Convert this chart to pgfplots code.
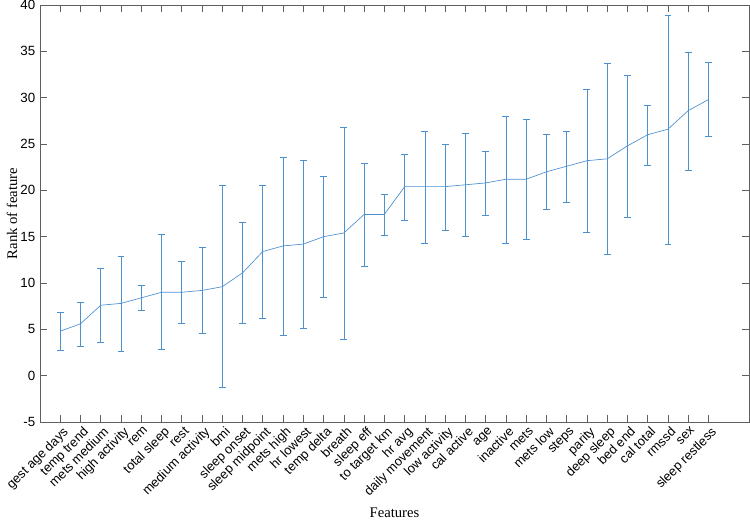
\documentclass[border=0pt]{standalone}
\usepackage{pgfplots}
\pgfplotsset{compat=1.18}
\usepackage{pgfplotstable}
\usepackage{fontspec}
\setmainfont{Liberation Sans}
\newfontfamily\serifrm{Liberation Serif}
\definecolor{mblue}{RGB}{75,145,208}
\definecolor{axgray}{RGB}{95,95,95}

% idx  mean  upper  lower
\pgfplotstableread{
idx mean up lo
1  4.8  6.8  2.7
2  5.6  7.9  3.2
3  7.6  11.6 3.6
4  7.8  12.9 2.6
5  8.4  9.7  7.0
6  9.0  15.2 2.8
7  9.0  12.3 5.7
8  9.2  13.8 4.6
9  9.6  20.5 -1.3
10 11.1 16.6 5.7
11 13.4 20.5 6.2
12 14.0 23.6 4.4
13 14.2 23.2 5.1
14 15.0 21.5 8.5
15 15.4 26.8 3.9
16 17.4 22.9 11.8
17 17.4 19.6 15.1
18 20.4 23.9 16.8
19 20.4 26.4 14.3
20 20.4 25.0 15.7
21 20.6 26.2 15.0
22 20.8 24.2 17.3
23 21.2 28.0 14.3
24 21.2 27.7 14.7
25 22.0 26.0 17.9
26 22.6 26.4 18.7
27 23.2 30.9 15.5
28 23.4 33.7 13.1
29 24.8 32.4 17.1
30 26.0 29.2 22.7
31 26.6 38.9 14.2
32 28.6 34.9 22.2
33 29.8 33.8 25.8
}\ranks
\pgfplotstablecreatecol[expr={\thisrow{up}-\thisrow{mean}}]{ep}{\ranks}
\pgfplotstablecreatecol[expr={\thisrow{mean}-\thisrow{lo}}]{em}{\ranks}

\begin{document}
\begin{tikzpicture}
\begin{axis}[
  scale only axis,
  width=531.75pt, height=312.75pt,
  xmin=0, xmax=35, ymin=-5, ymax=40,
  axis line style={axgray, line width=0.5pt},
  tick style={axgray, line width=0.5pt},
  major tick length=5pt,
  tick align=inside,
  xtick={1,...,33},
  ytick={-5,0,...,40},
  xticklabels={gest age days, temp trend, mets medium, high activity, rem, total sleep, rest, medium activity, bmi, sleep onset, sleep midpoint, mets high, hr lowest, temp delta, breath, sleep eff, to target km, hr avg, daily movement, low activity, cal active, age, inactive, mets, mets low, steps, parity, deep sleep, bed end, cal total, rmssd, sex, sleep restless},
  x tick label style={rotate=45, anchor=north east, inner sep=1pt, yshift=-2pt, font=\fontsize{9.7}{12}\selectfont},
  y tick label style={font=\fontsize{10}{12}\selectfont},
  /pgf/number format/assume math mode=true,
  xlabel={\serifrm Features},
  ylabel={\serifrm Rank of feature},
  label style={font=\fontsize{11}{13}\selectfont},
  xlabel style={at={(axis description cs:0.5,-0.218)}, anchor=center},
  ylabel style={at={(axis description cs:-0.0395,0.5)}, anchor=center},
]
\addplot[mblue, line width=0.5pt, no marks,
  error bars/.cd, y dir=both, y explicit,
  error bar style={mblue, line width=0.5pt},
  error mark options={rotate=90, mblue, mark size=2.6pt, line width=0.5pt}]
  table[x=idx, y=mean, y error plus=ep, y error minus=em] {\ranks};
\end{axis}
\pgfresetboundingbox
\useasboundingbox (-30pt,-75pt) rectangle (532.5pt,316.5pt);
\end{tikzpicture}
\end{document}
